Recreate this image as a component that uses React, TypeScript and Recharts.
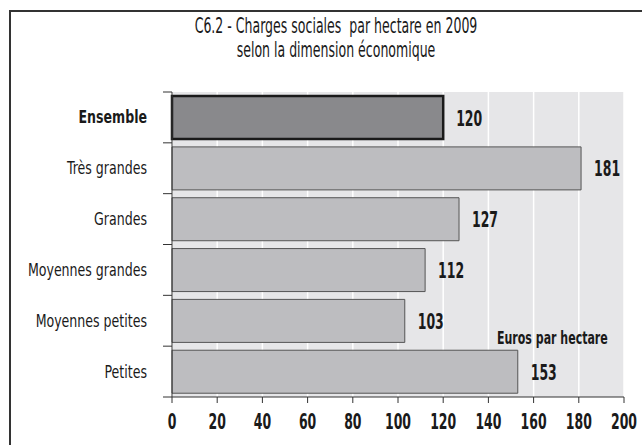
import React from "react";
import {
  BarChart,
  Bar,
  XAxis,
  YAxis,
  CartesianGrid,
  Cell,
  LabelList,
} from "recharts";

const categories = [
  "Ensemble",
  "Très grandes",
  "Grandes",
  "Moyennes grandes",
  "Moyennes petites",
  "Petites",
];
const values = [120, 181, 127, 112, 103, 153];
const xTicks = [0, 20, 40, 60, 80, 100, 120, 140, 160, 180, 200];

const data = categories.map((name, i) => ({ name, value: values[i] }));

const FONT = "'DejaVu Sans Condensed', 'Liberation Sans Narrow', sans-serif";

const W = 642;
const H = 445;
const MARGIN = { top: 92, right: 18, bottom: 18, left: 10 };
const X_AXIS_H = 30;
const PLOT_H = H - MARGIN.top - MARGIN.bottom - X_AXIS_H;

// the reference uses a very narrow face, so squeeze DejaVu Condensed horizontally
const CategoryTick = (props: any) => {
  const { x, y, payload, index } = props;
  const bold = payload.value === "Ensemble";
  const half = PLOT_H / categories.length / 2;
  return (
    <g>
      <line x1={x - 1} x2={x + 8} y1={y - half} y2={y - half} stroke="#333" />
      {index === categories.length - 1 && (
        <line x1={x - 1} x2={x + 8} y1={y + half} y2={y + half} stroke="#333" />
      )}
      <g transform={`translate(${x - 17},${y}) scale(0.8,1)`}>
        <text
          x={0}
          y={0}
          dy={6}
          textAnchor="end"
          fontFamily={FONT}
          fontSize={17.5}
          fontWeight={bold ? 700 : 400}
          fill="#1a1a1a"
        >
          {payload.value}
        </text>
      </g>
    </g>
  );
};

const ValueTick = (props: any) => {
  const { x, y, payload } = props;
  return (
    <g transform={`translate(${x},${y}) scale(0.63,1)`}>
      <text
        x={0}
        y={0}
        dy={24}
        textAnchor="middle"
        fontFamily={FONT}
        fontSize={22}
        fontWeight={700}
        fill="#1a1a1a"
      >
        {payload.value}
      </text>
    </g>
  );
};

const BarValue = (props: any) => {
  const { x, y, width, height, value } = props;
  return (
    <g transform={`translate(${x + width + 13},${y + height / 2}) scale(0.66,1)`}>
      <text
        x={0}
        y={0}
        dy={8}
        textAnchor="start"
        fontFamily={FONT}
        fontSize={21}
        fontWeight={700}
        fill="#1a1a1a"
      >
        {value}
      </text>
    </g>
  );
};

const App = () => {
  return (
    <div
      style={{
        position: "absolute",
        left: 0,
        top: 0,
        width: W,
        height: H,
        background: "#fff",
        overflow: "hidden",
      }}
    >
      <div
        style={{
          position: "absolute",
          left: 9,
          top: 10,
          width: 640,
          height: 440,
          borderTop: "2px solid #333",
          borderLeft: "2px solid #333",
        }}
      />
      <div
        style={{
          position: "absolute",
          left: 0,
          top: 14,
          width: 672,
          textAlign: "center",
          fontFamily: FONT,
          fontSize: 20.5,
          lineHeight: "24px",
          color: "#1a1a1a",
          transform: "scaleX(0.68)",
          transformOrigin: "336px 0",
        }}
      >
        C6.2 - Charges sociales&nbsp; par hectare en 2009
        <br />
        selon la dimension économique
      </div>
      <BarChart
        width={W}
        height={H}
        data={data}
        layout="vertical"
        margin={MARGIN}
        barCategoryGap="8%"
      >
        <CartesianGrid
          horizontal={false}
          stroke="#ffffff"
          strokeWidth={1.5}
          fill="#e6e6e8"
        />
        <XAxis
          type="number"
          domain={[0, 200]}
          ticks={xTicks}
          interval={0}
          height={X_AXIS_H}
          tickSize={6}
          tickLine={{ stroke: "#333" }}
          axisLine={{ stroke: "#333" }}
          tick={<ValueTick />}
        />
        <YAxis
          type="category"
          dataKey="name"
          width={162}
          tickLine={false}
          axisLine={{ stroke: "#333" }}
          tick={<CategoryTick />}
        />
        <Bar dataKey="value" isAnimationActive={false}>
          {data.map((d, i) => (
            <Cell
              key={d.name}
              fill={i === 0 ? "#89898c" : "#bdbdc0"}
              stroke={i === 0 ? "#1a1a1a" : "#555"}
              strokeWidth={i === 0 ? 2.5 : 1}
            />
          ))}
          <LabelList dataKey="value" content={<BarValue />} />
        </Bar>
      </BarChart>
      <div
        style={{
          position: "absolute",
          left: 497,
          top: 328,
          zIndex: 2,
          fontFamily: FONT,
          fontSize: 17,
          fontWeight: 700,
          whiteSpace: "nowrap",
          color: "#1a1a1a",
          transform: "scaleX(0.72)",
          transformOrigin: "0 0",
        }}
      >
        Euros par hectare
      </div>
    </div>
  );
};

export default App;
